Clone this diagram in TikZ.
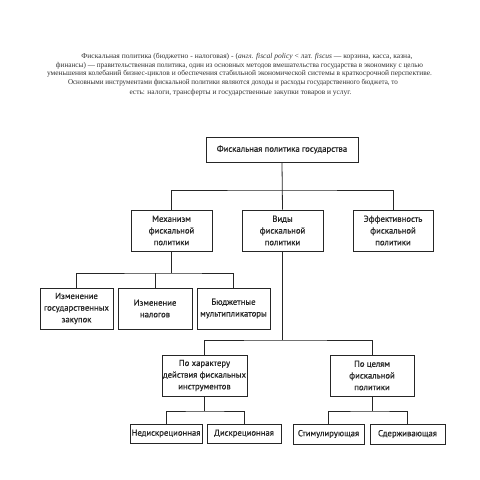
\documentclass[tikz,border=0pt]{standalone}
\usepackage{graphicx}
\usepackage{fontspec}
\setmainfont{Liberation Serif}
\newfontfamily\boxfont{PT Sans}[FakeBold=0.7]
\newcommand{\fitline}[2]{\resizebox{#1}{\height}{#2}}
\begin{document}
\begin{tikzpicture}[x=1pt,y=-1pt,
  blk/.style={draw=black!85, line width=1pt, inner sep=0pt, align=center,
    font=\boxfont\fontsize{8.7}{11.7}\selectfont, text=black!85},
  conn/.style={draw=black!85, line width=0.8pt},
  para/.style={inner sep=0pt, anchor=base, font=\fontsize{7.4}{9}\selectfont, text=black!80}]
\useasboundingbox (0,0) rectangle (480,480);
\fill[white] (0,0) rectangle (480,480);
% heading paragraph
\node[para] (l1) at (247,58) {\fitline{331pt}{Фискальная политика (бюджетно - налоговая) - (\textit{англ. fiscal policy} < лат. \textit{fiscus} — корзина, касса, казна,}};
\node[para] (l2) at (239.5,67.3) {\fitline{367pt}{финансы) — правительственная политика, один из основных методов вмешательства государства в экономику с целью}};
\node[para] (l3) at (239.5,75.6) {\fitline{385pt}{уменьшения колебаний бизнес-циклов и обеспечения стабильной экономической системы в краткосрочной перспективе.}};
\node[para] (l4) at (233,84.6) {\fitline{330pt}{Основными инструментами фискальной политики являются доходы и расходы государственного бюджета, то}};
\node[para] (l5) at (240.5,94.6) {\fitline{222pt}{есть: налоги, трансферты и государственные закупки товаров и услуг.}};
% boxes
\node[blk, minimum width=152pt, minimum height=25pt] (top) at (282,149.5) {Фискальная политика государства};
\node[blk, minimum width=81pt, minimum height=41pt] (mech) at (171.5,230.5) {Механизм\\фискальной\\политики};
\node[blk, minimum width=81pt, minimum height=41pt] (vidy) at (282.5,230.5) {Виды\\фискальной\\политики};
\node[blk, minimum width=80pt, minimum height=41pt] (eff) at (393,230.5) {Эффективность\\фискальной\\политики};
\node[blk, minimum width=73pt, minimum height=41pt] (izm1) at (76.5,308.5) {Изменение\\государственных\\закупок};
\node[blk, minimum width=74pt, minimum height=41pt] (izm2) at (155,308.5) {Изменение\\налогов};
\node[blk, minimum width=73pt, minimum height=41pt] (budg) at (233.5,308.5) {Бюджетные\\мультипликаторы};
\node[blk, minimum width=85pt, minimum height=41pt] (har) at (204.5,375.5) {По характеру\\действия фискальных\\инструментов};
\node[blk, minimum width=84pt, minimum height=41pt] (cel) at (372,375.5) {По целям\\фискальной\\политики};
\node[blk, minimum width=72pt, minimum height=19pt] (ned) at (166,433.5) {Недискреционная};
\node[blk, minimum width=74pt, minimum height=19pt] (disk) at (244,433.5) {Дискреционная};
\node[blk, minimum width=71pt, minimum height=20pt] (stim) at (328.5,434) {Стимулирующая};
\node[blk, minimum width=75pt, minimum height=20pt] (sder) at (407.5,434) {Сдерживающая};
% bus points
\coordinate (b1) at (282,190);
\coordinate (b2) at (171.5,273);
\coordinate (b3) at (282.5,340);
\coordinate (b4) at (204.5,411);
\coordinate (b5) at (372,411);
% connectors
\draw[conn] (top.south) -- (vidy.north);
\draw[conn] (mech.north) |- (b1) -| (eff.north);
\draw[conn] (mech.south) -- (b2);
\draw[conn] (izm1.north) |- (b2) -| (budg.north);
\draw[conn] (izm2.north) -- (izm2.north |- b2);
\draw[conn] (vidy.south) -- (b3);
\draw[conn] (har.north) |- (b3) -| (cel.north);
\draw[conn] (har.south) -- (b4);
\draw[conn] (ned.north) |- (b4) -| (disk.north);
\draw[conn] (cel.south) -- (b5);
\draw[conn] (stim.north) |- (b5) -| (sder.north);
\end{tikzpicture}
\end{document}
